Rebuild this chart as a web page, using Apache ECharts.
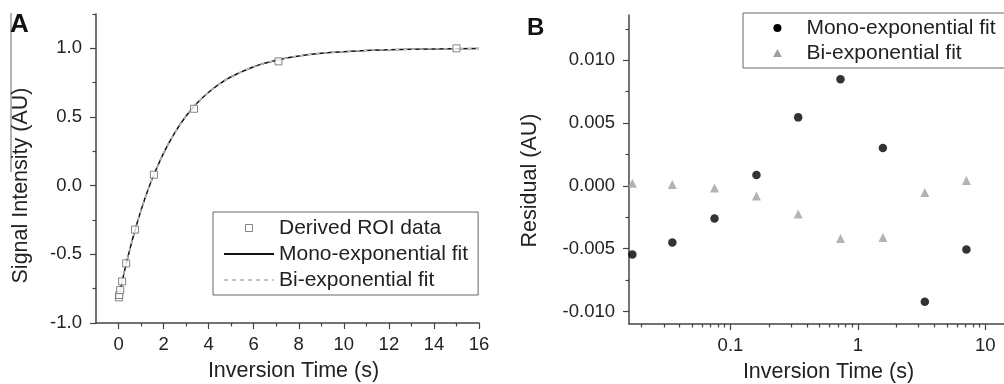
<!DOCTYPE html>
<html>
<head>
<meta charset="utf-8">
<script src="https://cdn.jsdelivr.net/npm/echarts@6/dist/echarts.min.js"></script>
<style>
  html, body { margin: 0; padding: 0; background: #fff; }
  #chart { width: 1004px; height: 384px; }
</style>
</head>
<body>
<div id="chart"></div>
<script>
// panel A: inversion recovery signal
const roiTimes = [0.017, 0.035, 0.075, 0.16, 0.34, 0.73, 1.57, 3.35, 7.1, 15];
const roiSignal = [-0.813, -0.796, -0.76, -0.697, -0.566, -0.32, 0.08, 0.56, 0.905, 1.0];
const fitTimes = [0, 0.25, 0.5, 0.75, 1, 1.25, 1.5, 2, 2.5, 3, 3.5, 4, 4.5, 5, 6, 7, 8, 9, 10, 11, 12, 14, 16];
const monoFit = [-0.82, -0.633, -0.465, -0.314, -0.178, -0.057, 0.052, 0.237, 0.386, 0.507, 0.603, 0.68, 0.743, 0.793, 0.866, 0.913, 0.944, 0.964, 0.976, 0.985, 0.99, 0.996, 0.998];
const biFit = [-0.82, -0.633, -0.465, -0.314, -0.178, -0.057, 0.052, 0.237, 0.386, 0.507, 0.603, 0.68, 0.743, 0.793, 0.866, 0.913, 0.944, 0.964, 0.976, 0.985, 0.99, 0.996, 0.998];

// panel B: residuals (log time axis)
const residTimes = [0.017, 0.035, 0.075, 0.16, 0.34, 0.73, 1.57, 3.35, 7.1];
const monoResid = [-0.00547, -0.00452, -0.00261, 0.00086, 0.00545, 0.00849, 0.00301, -0.00923, -0.00507];
const biResid = [0.0002, 0.0001, -0.00017, -0.00081, -0.00224, -0.0042, -0.00412, -0.00054, 0.00043];

// tick labels
const xTicksA = [0, 2, 4, 6, 8, 10, 12, 14, 16];
const xMinorA = [1, 3, 5, 7, 9, 11, 13, 15];
const yTicksA = [-1, -0.5, 0, 0.5, 1];
const yMinorA = [-0.75, -0.25, 0.25, 0.75, 1.25];
const xTicksB = [0.1, 1, 10];
const yTicksB = [-0.01, -0.005, 0, 0.005, 0.01];
const yMinorB = [-0.0075, -0.0025, 0.0025, 0.0075, 0.0125];

const xMinorB = [];
[0.01, 0.1, 1].forEach(d => {
  for (let k = 2; k <= 9; k++) xMinorB.push(+(k * d).toFixed(3));
});

const FONT = "'Liberation Sans', Arial, sans-serif";
const AXIS = "#444";
const TXT = "#222";

function zip(xs, ys) {
  return xs.map((x, i) => [x, ys[i]]);
}

// axis with line, labels and name; ticks come from the tick-only axes below
function labelAxis(extra) {
  return Object.assign({
    axisLine: { show: true, onZero: false, lineStyle: { color: AXIS, width: 1.5 } },
    splitLine: { show: false },
    axisTick: { show: false },
    nameLocation: "middle",
  }, extra);
}

// tick-only axis laid on top of the label axis
function tickAxis(values, len, extra) {
  return Object.assign({
    axisLine: { show: false, onZero: false },
    splitLine: { show: false },
    axisTick: { show: true, length: len, customValues: values, lineStyle: { color: AXIS, width: 1.2 } },
    axisLabel: { show: false },
  }, extra);
}

function labelStyle(values, margin, fmt) {
  return { color: TXT, fontSize: 18.5, fontFamily: FONT, margin: margin, customValues: values, formatter: fmt };
}

function nameStyle(pad) {
  return { color: TXT, fontSize: 21.5, fontFamily: FONT, padding: pad };
}

const chart = echarts.init(document.getElementById("chart"), null, { renderer: "canvas" });

const xA = { gridIndex: 0, type: "value", position: "bottom", min: -1, max: 16 };
const yA = { gridIndex: 0, type: "value", position: "left", min: -1, max: 1.25 };
const xB = { gridIndex: 1, type: "log", position: "bottom", min: 0.016, max: 14 };
const yB = { gridIndex: 1, type: "value", position: "left", min: -0.011, max: 0.0136 };

const option = {
  animation: false,
  backgroundColor: "#fff",
  grid: [
    { left: 96, right: 525, top: 14, bottom: 61, outerBoundsMode: "none", containLabel: false },
    { left: 629, right: 0, top: 15, bottom: 60, outerBoundsMode: "none", containLabel: false },
  ],
  xAxis: [
    labelAxis(Object.assign({}, xA, {
      axisLabel: labelStyle(xTicksA, 12, v => String(v)),
      name: "Inversion Time (s)", nameGap: 37, nameTextStyle: nameStyle([0, 0, 0, 12]),
    })),
    tickAxis(xTicksA, 6, Object.assign({}, xA)),
    tickAxis(xMinorA, 3.5, Object.assign({}, xA)),
    labelAxis(Object.assign({}, xB, {
      axisLabel: labelStyle(xTicksB, 12, v => String(v)),
      name: "Inversion Time (s)", nameGap: 37, nameTextStyle: nameStyle([0, 0, 0, 24]),
    })),
    tickAxis(xTicksB, 6, Object.assign({}, xB)),
    tickAxis(xMinorB, 3.5, Object.assign({}, xB)),
  ],
  yAxis: [
    labelAxis(Object.assign({}, yA, {
      axisLabel: labelStyle(yTicksA, 14, v => v.toFixed(1)),
      name: "Signal Intensity (AU)", nameGap: 64, nameTextStyle: nameStyle([0, 34, 0, 0]),
    })),
    tickAxis(yTicksA, 6, Object.assign({}, yA)),
    tickAxis(yMinorA, 3.5, Object.assign({}, yA)),
    labelAxis(Object.assign({}, yB, {
      axisLabel: labelStyle(yTicksB, 14, v => v.toFixed(3)),
      name: "Residual (AU)", nameGap: 88, nameTextStyle: nameStyle([0, 22, 0, 0]),
    })),
    tickAxis(yTicksB, 6, Object.assign({}, yB)),
    tickAxis(yMinorB, 3.5, Object.assign({}, yB)),
  ],
  legend: [
    {
      orient: "vertical", left: 213, top: 212,
      padding: [3, 10, 2, 10], itemGap: 0, itemWidth: 50, itemHeight: 7,
      borderColor: "#666", borderWidth: 1, backgroundColor: "#fff",
      textStyle: { color: TXT, fontSize: 21, fontFamily: FONT, lineHeight: 26 },
      data: [
        { name: "Derived ROI data", icon: "path://M0,0H10V10H0Z",
          itemStyle: { color: "#fff", borderColor: "#666", borderWidth: 1 } },
        { name: "Mono-exponential fit", itemStyle: { color: "rgba(0,0,0,0)", borderColor: "rgba(0,0,0,0)" } },
        { name: "Bi-exponential fit", itemStyle: { color: "rgba(0,0,0,0)", borderColor: "rgba(0,0,0,0)" } },
      ],
    },
    {
      // the box of this legend runs off the right edge, so it is drawn as a graphic rect;
      // the legend is aligned on its first visible icon pixel, hence the extra 20px
      orient: "vertical", left: 763, top: 13,
      padding: [2.5, 0, 2.5, 10], itemGap: 0, itemWidth: 48, itemHeight: 8,
      textStyle: { color: TXT, fontSize: 21, fontFamily: FONT, lineHeight: 25 },
      data: [
        { name: "Mono-exponential fit", icon: "path://M5,0A5,5,0,1,1,5,10A5,5,0,1,1,5,0Z",
          itemStyle: { color: "#000", borderWidth: 0 } },
        { name: "Bi-exponential fit", icon: "path://M5,0L10,9L0,9Z",
          itemStyle: { color: "#a0a0a0", borderWidth: 0 } },
      ],
    },
  ],
  graphic: [
    { type: "rect", shape: { x: 743, y: 13, width: 300, height: 55 },
      style: { stroke: "#666", lineWidth: 1, fill: "#fff" }, z: -1 },
    { type: "line", shape: { x1: 11, y1: 13, x2: 11, y2: 172 }, style: { stroke: "#666", lineWidth: 1 } },
    { type: "text", left: 10, top: 12, style: { text: "A", font: "bold 26px " + FONT, fill: "#111" } },
    { type: "text", left: 527, top: 16, style: { text: "B", font: "bold 24px " + FONT, fill: "#111" } },
  ],
  series: [
    {
      name: "Mono-exponential fit", type: "line", xAxisIndex: 0, yAxisIndex: 0,
      data: zip(fitTimes, monoFit), smooth: 0.3, symbol: "none",
      lineStyle: { color: "#111", width: 1.5 }, itemStyle: { color: "#111" }, z: 2,
    },
    {
      name: "Bi-exponential fit", type: "line", xAxisIndex: 0, yAxisIndex: 0,
      data: zip(fitTimes, biFit), smooth: 0.3, symbol: "none",
      lineStyle: { color: "#c4c4c4", width: 1.3, type: [4, 4] }, itemStyle: { color: "#c4c4c4" }, z: 3,
    },
    {
      name: "Derived ROI data", type: "scatter", xAxisIndex: 0, yAxisIndex: 0,
      data: zip(roiTimes, roiSignal), symbol: "rect", symbolSize: 7,
      itemStyle: { color: "#fff", borderColor: "#666", borderWidth: 1 }, z: 4,
    },
    {
      name: "Mono-exponential fit", type: "scatter", xAxisIndex: 3, yAxisIndex: 3,
      data: zip(residTimes, monoResid), symbol: "circle", symbolSize: 8.5,
      itemStyle: { color: "#000" }, z: 4,
    },
    {
      name: "Bi-exponential fit", type: "scatter", xAxisIndex: 3, yAxisIndex: 3,
      data: zip(residTimes, biResid), symbol: "triangle", symbolSize: 9,
      itemStyle: { color: "#a0a0a0" }, z: 3,
    },
  ],
};

chart.setOption(option);
</script>
</body>
</html>
